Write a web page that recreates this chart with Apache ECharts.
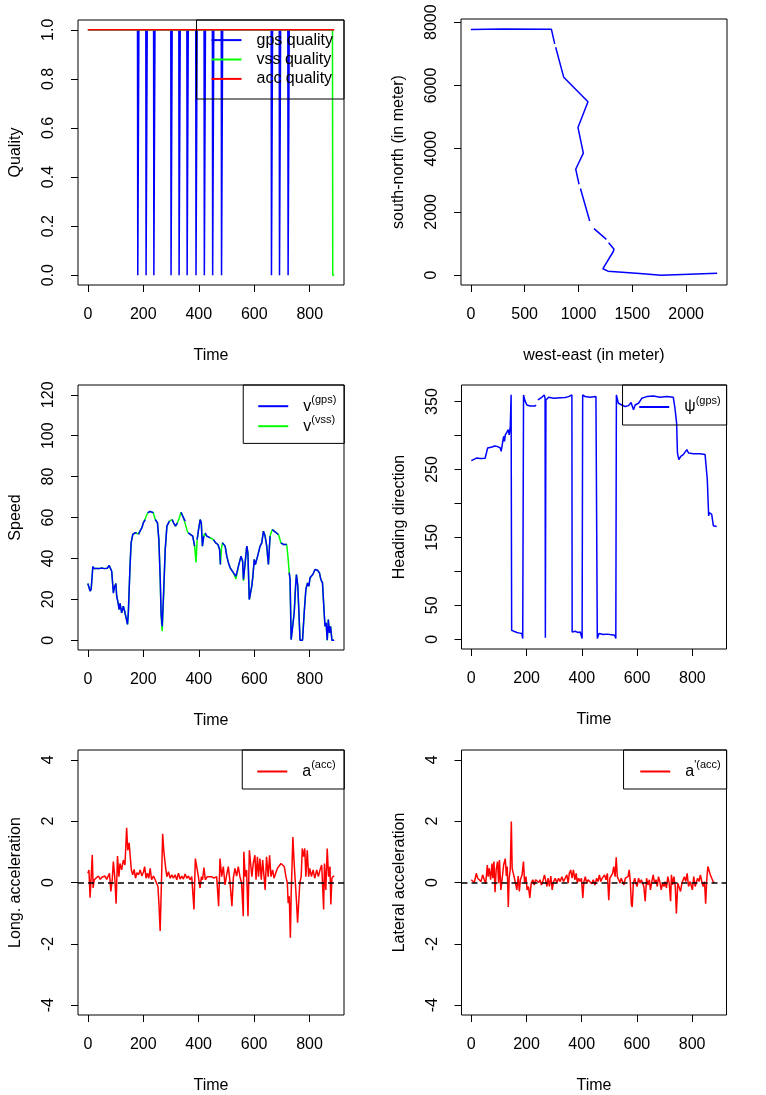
<!DOCTYPE html>
<html><head><meta charset="utf-8">
<script src="https://cdn.jsdelivr.net/npm/echarts@6/dist/echarts.min.js"></script>
<style>html,body{margin:0;padding:0;background:#fff}#c{width:766px;height:1095px}</style>
</head><body><div id="c"></div>
<script>
// ---------------- DATA ----------------
// Panel 1: quality indicators
const gpsQualTime  = [0, 179,180,183,184, 209,210,213,214, 237,238,241,242, 299,300,303,304, 328,329,332,333, 357,358,361,362, 389,390,393,394, 419,420,423,424, 449,450,453,454, 481,482,485,486, 661,662,665,666, 690,691,694,695, 721,722,725,726, 888];
const gpsQualValue = [1, 1,0,0,1, 1,0,0,1, 1,0,0,1, 1,0,0,1, 1,0,0,1, 1,0,0,1, 1,0,0,1, 1,0,0,1, 1,0,0,1, 1,0,0,1, 1,0,0,1, 1,0,0,1, 1,0,0,1, 1];
const vssQualTime  = [0, 882, 883, 888];
const vssQualValue = [1, 1, 0, 0];
const accQualTime  = [0, 888];
const accQualValue = [1, 1];

// Panel 2: trajectory (null = gap)
const trajX = [0, 15, 300, 748, 779, null, 788, 863, 1088, 995, 1045, 974, 1005, null, 1018, 1104, null, 1144, 1259, null, 1280, 1330, 1322, 1227, 1274, 1568, 1769, 2288];
const trajY = [7770, 7790, 7785, 7780, 7313, null, 7208, 6257, 5484, 4672, 3858, 3351, 2875, null, 2739, 1712, null, 1471, 1132, null, 1027, 820, 740, 203, 127, 54, 0, 63];

// Panel 3: speed
const speedTime = [0,3,8,12,18,23,30,40,50,60,70,77,80,86,92,96,101,104,108,113,116,122,128,134,138,143,146,152,156,162,170,176,180,183,188,195,200,207,210,216,224,231,236,238,243,251,256,261,264,268,273,279,285,294,300,304,309,316,323,329,336,342,351,358,362,369,378,385,390,394,399,405,409,413,418,420,423,429,441,450,453,461,469,475,478,482,485,489,495,501,507,513,525,534,543,552,558,561,567,573,577,582,585,591,595,600,604,609,615,621,627,633,639,645,651,657,662,665,672,687,691,696,705,717,722,726,729,733,739,744,749,752,757,761,765,774,780,786,792,797,801,811,819,828,835,840,846,852,855,859,863,867,871,875,880,888];
const gpsSpeed = [27.7,28,24,25,36,35,35.5,35,35.3,35,35.2,36.5,35.5,33.7,23,26,27.7,21.5,19,15,18,13.4,16.6,13.4,14,7.7,13.4,36,47.6,51.7,52.5,52.5,null,51.7,53.3,55,57.4,59,null,62.3,63,63,62.3,null,59,57.4,49.2,29.7,13.4,6.8,23,44.4,55.8,58.2,null,59,57.4,55.8,57.4,null,62.6,60.7,58.2,null,52.5,51.7,50.9,46,null,49.2,54.1,59,57.4,46,50.9,null,52.5,50.9,50,null,49.2,47.6,46.8,44.4,37,null,47.6,46.8,46,41,37.8,35.4,32.9,31.3,36.2,41,38.6,29.7,37.8,46,42.7,19.9,19,26.4,31.3,39.5,37,39.5,42.7,46,47.6,53.3,50.9,46,37,50.9,null,54.1,53.3,51.7,null,47.6,46.8,46.8,null,33,29.7,0.3,0,13.4,26.4,32.1,26.4,13.4,0,0,13.4,24.8,28,26.4,30.5,32.1,34.6,34.2,32.9,29.7,28,13.4,6.8,8.5,0,10.1,3.6,6.8,0,0];
const vssSpeed = [27.7,28,24,25,36,35,35.5,35,35.3,35,35.2,36.5,35.5,33.7,23.5,26,27.7,21.5,19,15,18,13.4,16.6,13.4,14,7.7,13.4,36,47.6,51.7,52.5,52.5,52,51.7,53.3,55,57.4,59.5,60.5,62.3,63,63,62.3,61.5,59,57.4,49.2,29.7,12,4.4,21,44.4,55.8,58.2,58.8,59,57.4,55.8,57.4,59.5,62.6,60.7,57,53.5,52.5,51.7,50.9,46,38,49.2,54.1,59,57.4,46,50.9,52,52.5,50.9,50,49.5,49.2,47.6,46.8,44.4,37,45,47.6,46.8,46,41,37.8,35.4,32.9,30,36.2,41,38.6,29,37.8,46,42.7,19.9,19,26.4,31.3,39.5,37,39.5,42.7,46,47.6,53.3,50.9,46,37,50.9,53,54.1,53.3,51.7,50,47.6,46.8,46.8,40,33,29.7,0.3,0,13.4,26.4,32.1,26.4,13.4,0,0,13.4,24.8,28,26.4,30.5,32.1,34.6,34.2,32.9,29.7,28,13.4,6.8,8.5,0,10.1,3.6,6.8,0,0];

// Panel 4: heading
const headTime = [0,8,20,32,50,54,59,75,85,93,100,105,108,113,117,120,123,129,134,137,141,144,146,153,165,175,183,186,189,194,201,213,231,234,238,241,255,264,267,268,270,280,298,322,340,352,355,364,365,370,376,385,394,401,403,412,430,451,454,456,462,478,490,502,519,523,525,532,545,557,569,578,587,593,605,617,635,659,683,707,731,737,743,746,751,758,767,780,786,804,828,846,849,854,859,861,870,876,888];
const headGps  = [263,264.6,267,266,266.5,268,281.6,283,284.5,284,282,281.6,276.8,289,298.7,291.4,301,303.6,308.5,301,313,360,13,10.7,9.8,9,8.3,1,359.7,351.4,345,343.6,343.6,345,null,352.4,356.3,359.7,354.8,2,352.4,356.3,354.8,355.8,356,357.3,359.7,359.7,10.7,12,11.7,10,10.7,1,359.7,357.3,356.3,357.3,359.7,1,8.3,6.8,7.5,6.8,5.9,1,359.7,347.5,345,342.6,344,348.5,337.8,345,347.5,354.8,357.3,358.3,356.3,357.3,356.3,340.2,318.2,274.3,264.5,269.4,271.9,279.2,274.3,273.3,273.3,271.9,269.4,235.3,181.6,186.4,184,167,166];

// Panel 5: longitudinal acceleration
const accTime = [0,4,8,12,16,19,23,30,38,45,50,56,62,68,74,78,83,88,92,97,102,107,112,116,122,128,134,140,144,149,153,157,162,167,172,177,183,189,195,201,205,210,215,220,225,230,237,243,249,253,257,261,264,268,270,274,279,285,291,297,303,309,315,321,327,333,339,345,351,357,363,369,375,383,388,393,399,405,410,414,419,424,431,438,447,455,465,472,477,483,489,495,501,507,513,520,525,531,537,543,549,555,561,563,568,573,578,583,587,592,597,603,607,612,616,621,626,631,636,640,645,651,656,661,667,672,678,684,691,697,703,709,715,720,723,727,731,734,737,740,744,749,753,757,761,765,770,774,779,783,787,792,797,801,807,813,819,826,832,838,844,847,851,854,859,864,869,874,877,881,886,889];
const accLong = [0.3,0.41,-0.5,0.19,0.9,-0.18,0.09,0.14,0.21,0.1,0.17,0.12,0.21,0.1,0.14,0.3,-0.29,0.09,0.68,0.19,-0.69,0.86,0.19,0.62,0.41,0.73,0.57,1.78,1.05,1.29,0.84,0.41,0.25,0.43,0.14,0.32,0.25,0.41,0.21,0.35,0.52,0.14,0.3,0.14,0.46,0.09,0.21,0.09,0.03,-0.13,-0.77,-1.58,-0.56,0.84,1.59,1.05,0.62,0.19,0.35,0.14,0.25,0.14,0.25,0.09,0.3,0.11,0.21,0.11,0.28,0.14,0.21,0.09,0.19,-0.88,0.78,0.73,0.19,-0.18,0.19,0.09,0.49,0.09,0.19,0.14,0.19,0.14,0.19,-0.77,0.78,0.19,0.52,-0.08,0.25,0.52,0.03,-0.77,0.14,0.46,0.21,0.52,0.19,-0.02,-1.1,1.0,0.19,0.41,-1.1,1.05,1.11,0.19,0.62,0.89,0.09,0.84,0.19,0.78,0.09,0.73,0.19,-0.24,0.84,0.19,0.89,0.19,0.41,0.14,0.3,0.46,0.52,0.62,0.57,0.52,0.19,-0.02,-0.67,-0.45,-1.8,-0.34,0.52,1.48,0.73,-0.02,-0.61,-1.31,-0.67,-0.02,0.19,1.11,0.84,1.11,0.19,1.05,0.19,0.46,0.19,0.41,0.14,0.41,0.19,0.41,0.57,-0.02,-0.88,0.62,-0.24,1.11,0.19,0.52,-0.72,0.14,0.21,0.19];

// Panel 6: lateral acceleration
const latTime = [0,5,11,18,23,30,35,41,47,52,58,61,65,70,75,78,82,86,90,95,99,102,107,112,117,123,127,130,134,137,141,145,148,152,155,160,165,170,174,178,184,189,193,198,202,207,212,217,223,228,233,240,245,249,254,259,265,270,274,278,283,288,293,298,304,310,316,322,328,334,340,346,351,355,360,365,370,375,380,384,389,394,399,404,408,413,418,423,430,436,442,448,454,459,464,469,474,478,483,488,493,498,502,507,512,516,521,525,529,534,539,543,548,553,558,563,568,572,576,580,583,587,592,596,601,606,611,616,621,625,630,635,640,645,649,654,659,664,669,674,678,683,688,693,698,702,707,712,717,722,725,729,734,739,743,748,753,758,763,767,772,777,782,787,792,796,801,806,811,816,820,825,830,835,840,845,849,853,857,861,866,871,876,880];
const accLat = [0.09,0.11,0,0.3,0.14,0.19,0.03,0.25,0.09,-0.04,0.57,0.19,0.46,0.09,0.62,0.14,0.68,-0.32,0.41,0.68,-0.02,0.73,-0.24,0.14,0.57,0.78,0.21,0.52,-0.8,0.14,0.41,1.99,0.46,0.52,0.19,-0.02,-0.24,0.21,-0.29,0.09,0.25,0.68,0,0.19,-0.24,-0.13,-0.5,-0.02,0.09,-0.08,0.09,0.14,0,0.09,-0.08,0.03,0.25,0.3,-0.13,0.14,-0.13,0.21,-0.24,0.03,0.14,-0.02,0.14,0.03,0.19,0.03,0.14,0.25,-0.02,0.3,0.41,0.14,0.41,0.09,0.3,-0.02,0.14,0.03,0.14,-0.5,0.03,0.19,-0.02,0.09,0.03,-0.04,0.09,-0.08,0.14,0.03,0.25,0.03,0.14,0.09,0.25,0.09,0.3,-0.58,0.14,0.09,0.3,0.52,0.19,0.82,0.19,0.09,-0.02,0.14,0.03,-0.08,0.14,0.09,0.19,0.41,0.03,-0.72,-0.8,-0.02,0.14,-0.02,-0.13,0.14,-0.02,0.09,0.14,-0.13,-0.61,0.14,-0.08,0.09,-0.24,0.03,0.25,-0.02,0.09,-0.13,0.19,0.03,-0.24,-0.02,-0.13,0.03,-0.18,0.19,-0.02,-0.61,0.25,-0.08,0.19,-0.13,-1.01,-0.02,0.03,-0.29,-0.02,0.03,0.19,0.03,0.3,-0.13,0.03,-0.08,-0.24,0.19,-0.13,0.03,0.14,0.03,0.25,0.03,-0.13,0.03,-0.69,0.09,0.52,0.46,0.25,0.14,0.03,0];

// Tick values
const timeTicks = [0,200,400,600,800];
const qualTicks = [0,0.2,0.4,0.6,0.8,1.0];
const weTicks = [0,500,1000,1500,2000];
const snTicks = [0,2000,4000,6000,8000];
const speedTicks = [0,20,40,60,80,100,120];
const headTicks = [0,50,100,150,200,250,300,350];
const headLabels = [0,50,150,250,350];
const accTicks = [-4,-2,0,2,4];
const zeroLine = 0;

// Axis limits (R-style 4% extension of the data / given limits)
const qualLim = [0, 1], speedLim = [0, 120], headLim = [0, 360], accLim = [-4, 4];

// ---------------- CHART ----------------
const FONT = '"Liberation Sans", Arial, Helvetica, sans-serif';
const BLUE = '#0000ff', GREEN = '#00ff00', RED = '#ff0000';
function ext(lo, hi) { const d = (hi - lo) * 0.04; return [lo - d, hi + d]; }
function dataRange(a) { const v = a.filter(x => x != null); return [Math.min(...v), Math.max(...v)]; }
function zip(a, b) { return a.map((x, i) => [x == null ? '-' : x, b[i] == null ? '-' : b[i]]); }

const grids = [
  {left: 78, top: 20, width: 266, height: 265},
  {left: 461, top: 19, width: 266, height: 266},
  {left: 78, top: 385, width: 266, height: 265},
  {left: 461.5, top: 385, width: 265, height: 264},
  {left: 78, top: 750, width: 266, height: 265},
  {left: 461.5, top: 750, width: 265, height: 265}
].map(g => Object.assign({show: true, borderColor: '#000', borderWidth: 1, backgroundColor: 'transparent'}, g));

const txt = {fontSize: 16, color: '#000', fontFamily: FONT};
const plainNum = v => String(v);
function xAx(gi, r, ticks, name) {
  return {type: 'value', gridIndex: gi, min: r[0], max: r[1], name: name, nameLocation: 'middle', nameGap: 63,
    nameTextStyle: txt, axisLine: {show: false, onZero: false}, splitLine: {show: false},
    axisTick: {show: true, customValues: ticks, length: 7, lineStyle: {color: '#000', width: 1}},
    axisLabel: Object.assign({customValues: ticks, margin: 22, formatter: plainNum}, txt)};
}
function yAx(gi, r, ticks, labels, name, fmt) {
  const lab = Object.assign({customValues: labels, margin: 21, rotate: 90, formatter: fmt || plainNum}, txt);
  return {type: 'value', gridIndex: gi, min: r[0], max: r[1], name: name, nameLocation: 'middle', nameGap: 54,
    nameTextStyle: txt, axisLine: {show: false, onZero: false}, splitLine: {show: false},
    axisTick: {show: true, customValues: ticks, length: 7, lineStyle: {color: '#000', width: 1}},
    axisLabel: lab};
}

const tAll = ext(0, Math.max(...gpsQualTime));
const xAxes = [
  xAx(0, tAll, timeTicks, 'Time'),
  xAx(1, ext(...dataRange(trajX)), weTicks, 'west-east (in meter)'),
  xAx(2, ext(...dataRange(speedTime)), timeTicks, 'Time'),
  xAx(3, ext(...dataRange(headTime)), timeTicks, 'Time'),
  xAx(4, ext(...dataRange(accTime)), timeTicks, 'Time'),
  xAx(5, ext(...dataRange(accTime)), timeTicks, 'Time')
];
const yAxes = [
  yAx(0, ext(...qualLim), qualTicks, qualTicks, 'Quality', v => v.toFixed(1)),
  yAx(1, ext(...dataRange(trajY)), snTicks, snTicks, 'south-north (in meter)'),
  yAx(2, ext(...speedLim), speedTicks, speedTicks, 'Speed'),
  yAx(3, ext(...headLim), headTicks, headLabels, 'Heading direction'),
  yAx(4, ext(...accLim), accTicks, accTicks, 'Long. acceleration'),
  yAx(5, ext(...accLim), accTicks, accTicks, 'Lateral acceleration')
];

function line(name, gi, data, color, extra) {
  return Object.assign({type: 'line', name: name, xAxisIndex: gi, yAxisIndex: gi, data: data, symbol: 'none',
    showSymbol: false, connectNulls: false, animation: false, silent: true,
    lineStyle: {color: color, width: 1.5}, itemStyle: {color: color}}, extra || {});
}
const zeroMark = {markLine: {silent: true, symbol: ['none', 'none'], label: {show: false}, animation: false,
  lineStyle: {color: '#000', type: [6, 4], width: 1.5}, data: [{yAxis: zeroLine}]}};

const series = [
  line('gps quality', 0, zip(gpsQualTime, gpsQualValue), BLUE),
  line('vss quality', 0, zip(vssQualTime, vssQualValue), GREEN),
  line('acc quality', 0, zip(accQualTime, accQualValue), RED),
  line('trajectory', 1, zip(trajX, trajY), BLUE),
  line('v(vss)', 2, zip(speedTime, vssSpeed), GREEN),
  line('v(gps)', 2, zip(speedTime, gpsSpeed), BLUE),
  line('\u03c8(gps)', 3, zip(headTime, headGps), BLUE),
  line('a(acc)', 4, zip(accTime, accLong), RED, zeroMark),
  line("a'(acc)", 5, zip(latTime, accLat), RED, zeroMark)
];

const rich = {
  q: {fontSize: 16, padding: [0, 0, 0, 10], fontFamily: FONT, color: '#000'},
  m: {fontSize: 16, lineHeight: 16, verticalAlign: 'bottom', padding: [0, 0, 0, 10], fontFamily: FONT, color: '#000'},
  s: {fontSize: 11, lineHeight: 11, verticalAlign: 'bottom', padding: [0, 0, 9, 0], fontFamily: FONT, color: '#000'}
};
function legend(names, right, top, pad, fmt, gap) {
  return {data: names, right: right, top: top, orient: 'vertical', icon: 'rect', itemWidth: 30, itemHeight: 2,
    itemGap: gap || 0, padding: pad, borderColor: '#000', borderWidth: 1, selectedMode: false,
    itemStyle: {borderWidth: 0}, textStyle: {fontSize: 16, color: '#000', fontFamily: FONT, rich: rich},
    formatter: fmt};
}
const plain = n => '{q|' + n + '}';
const sup = n => '{m|' + n.charAt(0) + '}{s|' + n.slice(1) + '}';

const option = {
  animation: false,
  backgroundColor: '#fff',
  grid: grids,
  xAxis: xAxes,
  yAxis: yAxes,
  legend: [
    legend(['gps quality', 'vss quality', 'acc quality'], 422, 20, [12.1, 11, 12.1, 15], plain, 3.4),
    legend(['v(gps)', 'v(vss)'], 421.7, 385, [9.2, 8, 9.2, 15], sup),
    legend(['\u03c8(gps)'], 39.3, 385, [10, 6, 10, 16.7], sup),
    legend(['a(acc)'], 421.7, 750, [9.5, 8.7, 9.5, 15], sup),
    legend(["a'(acc)"], 39.3, 750, [9.5, 6, 9.5, 16.7], sup)
  ],
  series: series
};
const chart = echarts.init(document.getElementById('c'), null, {renderer: 'canvas'});
chart.setOption(option);
</script></body></html>
